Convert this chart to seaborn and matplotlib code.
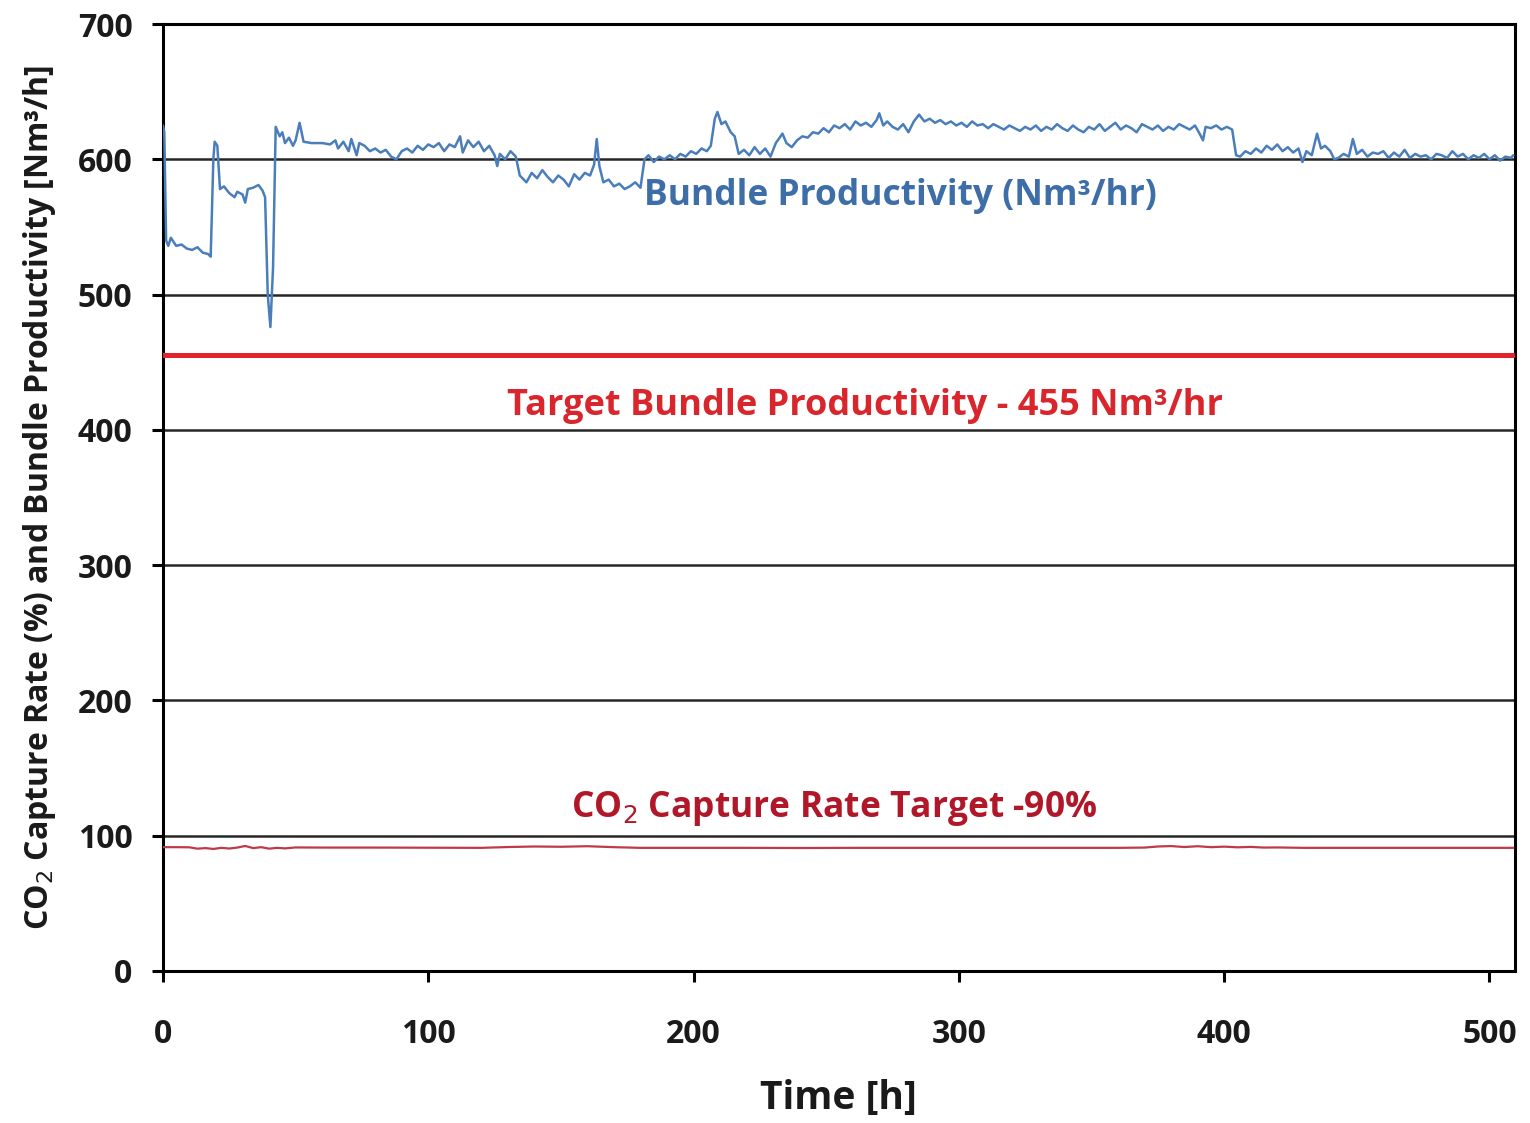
import numpy as np
import pandas as pd
import matplotlib
matplotlib.use("Agg")
import matplotlib.pyplot as plt
import seaborn as sns

# ---------------- data ----------------
bundle_time = [0, 0.5, 1.2, 2, 3, 5, 7, 9, 11, 13, 15, 17, 18, 19, 19.5, 20.5, 21.5, 23, 25, 27, 28, 30, 31, 32,
               34, 36, 37.5, 38.5, 39.5, 40.5, 41.5, 42.5, 44, 45, 46, 47.5, 49, 50, 51.5, 53, 56, 60, 63, 65,
               66, 68, 70, 71, 73, 74, 76, 78, 80, 82, 84, 86, 88, 90, 92, 94, 96, 98, 100, 102, 104, 106, 108,
               110, 112, 113, 115, 117, 119, 121, 123, 125, 126, 127, 129, 131, 133, 134.5, 137, 139, 141, 143,
               145, 147, 149, 151, 153, 155, 157, 159, 161, 162.5, 163.5, 164.5, 166, 168, 170, 172, 174, 176,
               178, 180, 181.5, 183, 185, 187, 189, 191, 193, 195, 197, 199, 201, 203, 205, 206.5, 208, 209,
               210.5, 212, 214, 215.5, 217, 219, 221, 223, 225, 227, 229, 231, 233.5, 235, 237, 239, 241, 243,
               245, 247, 249, 251, 253, 255, 257, 259, 261, 263, 265, 267, 269, 270, 271.5, 273, 275, 277, 279,
               281, 283, 285, 287, 289, 291, 293, 295, 297, 299, 301, 303, 305, 307, 309, 311, 313, 315, 317,
               319, 321, 323, 325, 327, 329, 331, 333, 335, 337, 339, 341, 343, 345, 347, 349, 351, 353, 355,
               357, 359, 361, 363, 365, 367, 369, 371, 373, 375, 377, 379, 381, 383, 385, 387, 389, 391, 392,
               393, 395, 397, 399, 401, 403, 404.5, 406, 408, 410, 412, 414, 416, 418, 420, 422, 424, 426, 428,
               429.5, 431, 433, 435, 436.5, 438, 440, 441.5, 443, 445, 447, 448.5, 450, 452, 454, 456, 458, 460,
               462, 464, 466, 468, 470, 472, 474, 476, 478, 480, 482, 484, 486, 488, 490, 492, 494, 496, 498,
               500, 502, 504, 506, 508, 509]
bundle_value = [625, 620, 540, 536, 542, 536, 537, 534, 533, 535, 531, 530, 528, 600, 613, 610, 578, 580, 575, 572,
                576, 574, 568, 578, 579, 581, 577, 572, 500, 476, 520, 624, 617, 620, 612, 616, 610, 614, 627, 613,
                612, 612, 611, 614, 608, 613, 606, 615, 603, 612, 610, 606, 608, 605, 607, 602, 600, 606, 608, 605,
                610, 607, 611, 609, 612, 606, 611, 609, 617, 605, 614, 609, 613, 606, 610, 603, 595, 604, 600, 606,
                602, 588, 583, 590, 586, 592, 587, 583, 588, 585, 580, 589, 585, 590, 588, 596, 615, 595, 583, 585,
                580, 582, 578, 580, 583, 579, 600, 603, 598, 602, 600, 603, 600, 604, 602, 606, 604, 608, 606, 610,
                630, 635, 626, 628, 620, 617, 604, 607, 603, 609, 604, 608, 602, 612, 619, 612, 609, 614, 617, 616,
                620, 619, 623, 620, 625, 623, 626, 622, 628, 625, 627, 624, 629, 634, 625, 628, 624, 622, 626, 620,
                628, 633, 628, 630, 627, 629, 626, 628, 625, 627, 624, 628, 625, 626, 623, 626, 624, 622, 625, 623,
                621, 624, 622, 625, 621, 624, 622, 626, 623, 621, 625, 622, 620, 624, 622, 626, 621, 624, 627, 622,
                625, 623, 620, 626, 624, 622, 625, 621, 624, 622, 626, 624, 622, 625, 618, 614, 624, 623, 625, 622,
                624, 622, 603, 602, 606, 604, 608, 605, 610, 607, 611, 606, 609, 605, 608, 598, 606, 603, 619, 608,
                610, 606, 600, 601, 604, 602, 615, 604, 607, 602, 605, 604, 606, 601, 605, 602, 607, 601, 604, 602,
                603, 600, 604, 603, 601, 606, 602, 604, 600, 603, 601, 604, 600, 603, 599, 602, 601, 603]

capture_time = [0, 5, 10, 13, 16, 19, 22, 25, 28, 31, 34, 37, 40, 43, 46, 50, 60, 80, 100, 120, 130, 140, 150,
                160, 170, 180, 200, 220, 240, 260, 280, 300, 320, 340, 360, 370, 375, 380, 385, 390, 395, 400, 405,
                410, 415, 420, 430, 450, 470, 490, 509]
capture_value = [91.5, 91.5, 91.4, 90.4, 90.8, 90.2, 91.0, 90.5, 91.2, 92.4, 90.8, 91.5, 90.4, 91.0, 90.6, 91.3,
                 91.2, 91.2, 91.1, 91.0, 91.6, 92.0, 91.8, 92.2, 91.5, 91.0, 91.0, 91.0, 90.9, 91.0, 91.0, 91.0,
                 91.0, 91.0, 91.0, 91.2, 92.0, 92.3, 91.6, 92.2, 91.5, 91.9, 91.4, 91.7, 91.2, 91.3, 91.0, 91.0,
                 91.0, 91.0, 91.0]

target_time = [0, 509]
target_value = [455, 455]

x_ticks = [0, 100, 200, 300, 400, 500]
y_ticks = [0, 100, 200, 300, 400, 500, 600, 700]

# ---------------- style ----------------
sns.set_theme(style="white")
plt.rcParams["font.family"] = ["Open Sans", "DejaVu Sans"]

fig = plt.figure(figsize=(15.3, 11.23), dpi=100)
ax = fig.add_axes([0.1065, 0.1354, 0.8835, 0.8432])

for yv in y_ticks[1:-1]:
    ax.axhline(yv, color="#262626", lw=1.8, zorder=1)

df_b = pd.DataFrame({"t": bundle_time, "v": bundle_value})
df_c = pd.DataFrame({"t": capture_time, "v": capture_value})
df_t = pd.DataFrame({"t": target_time, "v": target_value})

sns.lineplot(data=df_t, x="t", y="v", ax=ax, color="#e3232b", lw=3.6, zorder=3)
sns.lineplot(data=df_c, x="t", y="v", ax=ax, color="#c0394a", lw=1.6, zorder=3)
sns.lineplot(data=df_b, x="t", y="v", ax=ax, color="#4a7ebb", lw=1.8, zorder=4)

ax.set_xlim(0, 509.5)
ax.set_ylim(0, 700)
ax.set_xticks(x_ticks)
ax.set_yticks(y_ticks)

for s in ax.spines.values():
    s.set_color("black")
    s.set_linewidth(2.2)

ax.tick_params(axis="both", which="major", direction="out", length=8, width=2.2, color="black",
               labelsize=23, bottom=True, left=True)
for lab in ax.get_xticklabels() + ax.get_yticklabels():
    lab.set_fontweight("bold")
    lab.set_color("#1a1a1a")
ax.tick_params(axis="x", pad=26)
ax.tick_params(axis="y", pad=14)

ax.set_xlabel("Time [h]", fontsize=28, fontweight="bold", labelpad=20, color="#1a1a1a")
ax.set_ylabel("CO$_2$ Capture Rate (%) and Bundle Productivity [Nm\u00b3/h]", fontsize=23,
              fontweight="bold", labelpad=14, color="#1a1a1a")

ax.text(278, 573, "Bundle Productivity (Nm\u00b3/hr)", color="#3d6ea8", fontsize=25.5,
        fontweight="bold", ha="center", va="center", zorder=5)
ax.text(264.5, 418, "Target Bundle Productivity - 455 Nm\u00b3/hr", color="#d9262c", fontsize=26,
        fontweight="bold", ha="center", va="center", zorder=5)
ax.text(253, 120, "CO$_2$ Capture Rate Target -90%", color="#b0182a", fontsize=25.5,
        fontweight="bold", ha="center", va="center", zorder=5)

fig.savefig("out.png", dpi=100)
